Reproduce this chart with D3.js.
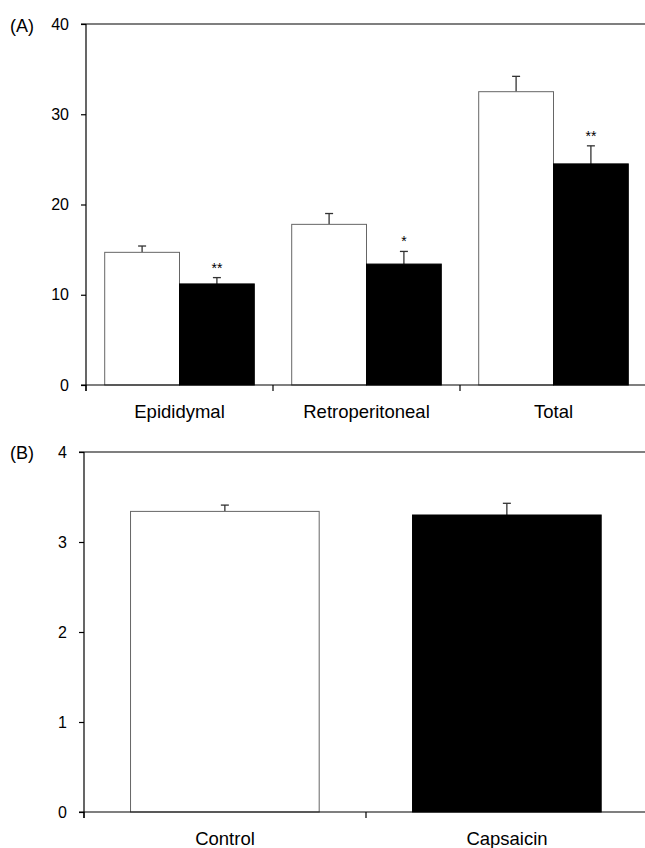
<!DOCTYPE html>
<html>
<head>
<meta charset="utf-8">
<script src="https://cdn.jsdelivr.net/npm/d3@7"></script>
<style>
  html, body { margin: 0; padding: 0; background: #fff; }
  svg { display: block; font-family: "Liberation Sans", Arial, sans-serif; }
</style>
</head>
<body>
<svg id="chart" width="645" height="848"></svg>
<script>
// Panel A data
const categoriesA = ["Epididymal", "Retroperitoneal", "Total"];
const seriesNames = ["Control", "Capsaicin"];
const controlA = [14.7, 17.8, 32.5];
const controlErrA = [0.7, 1.2, 1.7];
const capsaicinA = [11.2, 13.4, 24.5];
const capsaicinErrA = [0.7, 1.4, 2.0];
const starsA = ["**", "*", "**"];
const ticksA = [0, 10, 20, 30, 40];

// Panel B data
const categoriesB = ["Control", "Capsaicin"];
const valuesB = [3.34, 3.30];
const errB = [0.07, 0.13];
const ticksB = [0, 1, 2, 3, 4];

const svg = d3.select("#chart");
const fills = { Control: "#ffffff", Capsaicin: "#000000" };
const strokes = { Control: "#666666", Capsaicin: "#000000" };

function drawFrame(g, x0, yTop, yBottom, y, ticks, label, labelY) {
  g.append("line").attr("x1", x0 - 5).attr("x2", 645).attr("y1", yTop).attr("y2", yTop)
    .attr("stroke", "#000").attr("stroke-width", 1.2);
  const ax = g.append("g").attr("transform", `translate(${x0},0)`)
    .call(d3.axisLeft(y).tickValues(ticks).tickSize(5).tickPadding(12).tickFormat(d3.format("d")));
  ax.select(".domain").remove();
  ax.append("line").attr("x1", 0).attr("x2", 0).attr("y1", yTop).attr("y2", yBottom + 6)
    .attr("stroke", "#000").attr("stroke-width", 1.2);
  ax.selectAll(".tick line").attr("stroke", "#000").attr("stroke-width", 1.2);
  ax.selectAll(".tick text").attr("font-size", 16).attr("fill", "#000")
    .attr("font-family", "'Liberation Sans', Arial, sans-serif");
  g.append("text").attr("x", 10).attr("y", labelY).attr("font-size", 18).text(label);
}

// ---------- Panel A ----------
const gA = svg.append("g");
const yA = d3.scaleLinear().domain([0, 40]).range([385, 24]);
const xA = d3.scaleBand().domain(categoriesA).range([86, 647]).padding(0);
const xSubA = d3.scaleBand().domain(seriesNames)
  .range([xA.bandwidth() * 0.1, xA.bandwidth() * 0.9]).padding(0);

const dataA = categoriesA.map((c, i) => ({
  cat: c,
  star: starsA[i],
  bars: [
    { s: "Control", v: controlA[i], e: controlErrA[i] },
    { s: "Capsaicin", v: capsaicinA[i], e: capsaicinErrA[i] }
  ]
}));

const grpA = gA.selectAll(".grp").data(dataA).enter().append("g")
  .attr("transform", d => `translate(${xA(d.cat)},0)`);

grpA.each(function(d) {
  const g = d3.select(this);
  d.bars.forEach(b => {
    const cx = xSubA(b.s) + xSubA.bandwidth() / 2;
    g.append("line").attr("x1", cx).attr("x2", cx)
      .attr("y1", yA(b.v)).attr("y2", yA(b.v + b.e)).attr("stroke", "#333").attr("stroke-width", 1.3);
    g.append("line").attr("x1", cx - 4).attr("x2", cx + 4)
      .attr("y1", yA(b.v + b.e)).attr("y2", yA(b.v + b.e)).attr("stroke", "#333").attr("stroke-width", 1.3);
    g.append("rect").attr("x", xSubA(b.s)).attr("width", xSubA.bandwidth())
      .attr("y", yA(b.v)).attr("height", yA(0) - yA(b.v))
      .attr("fill", fills[b.s]).attr("stroke", strokes[b.s]).attr("stroke-width", 1);
  });
  const cap = d.bars[1];
  g.append("text").attr("x", xSubA("Capsaicin") + xSubA.bandwidth() / 2)
    .attr("y", yA(cap.v + cap.e) - 5).attr("text-anchor", "middle")
    .attr("font-size", 14).text(d.star);
});

drawFrame(gA, 86, 24, 385, yA, ticksA, "(A)", 32);
const bxA = gA.append("g");
bxA.append("line").attr("x1", 81).attr("x2", 645).attr("y1", 385).attr("y2", 385)
  .attr("stroke", "#000").attr("stroke-width", 1.2);
bxA.selectAll(".xt").data(categoriesA.concat(["_end"])).enter().append("line")
  .attr("x1", (d, i) => i < categoriesA.length ? xA(d) : xA.range()[1])
  .attr("x2", (d, i) => i < categoriesA.length ? xA(d) : xA.range()[1])
  .attr("y1", 385).attr("y2", 391).attr("stroke", "#000").attr("stroke-width", 1.2);
bxA.selectAll(".xl").data(categoriesA).enter().append("text")
  .attr("x", d => xA(d) + xA.bandwidth() / 2).attr("y", 418)
  .attr("text-anchor", "middle").attr("font-size", 18.5).text(d => d);

// ---------- Panel B ----------
const gB = svg.append("g");
const yB = d3.scaleLinear().domain([0, 4]).range([812, 452]);
const xB = d3.scaleBand().domain(categoriesB).range([84, 648]).padding(0);
const dataB = categoriesB.map((c, i) => ({ cat: c, v: valuesB[i], e: errB[i] }));

dataB.forEach(d => {
  const x0 = xB(d.cat) + xB.bandwidth() * 0.165;
  const w = xB.bandwidth() * 0.669;
  const cx = x0 + w / 2;
  gB.append("line").attr("x1", cx).attr("x2", cx)
    .attr("y1", yB(d.v)).attr("y2", yB(d.v + d.e)).attr("stroke", "#333").attr("stroke-width", 1.3);
  gB.append("line").attr("x1", cx - 4).attr("x2", cx + 4)
    .attr("y1", yB(d.v + d.e)).attr("y2", yB(d.v + d.e)).attr("stroke", "#333").attr("stroke-width", 1.3);
  gB.append("rect").attr("x", x0).attr("width", w)
    .attr("y", yB(d.v)).attr("height", yB(0) - yB(d.v))
    .attr("fill", fills[d.cat]).attr("stroke", strokes[d.cat]).attr("stroke-width", 1);
});

drawFrame(gB, 84, 452, 812, yB, ticksB, "(B)", 459);
const bxB = gB.append("g");
bxB.append("line").attr("x1", 79).attr("x2", 645).attr("y1", 812).attr("y2", 812)
  .attr("stroke", "#000").attr("stroke-width", 1.2);
bxB.selectAll(".xt").data(categoriesB.concat(["_end"])).enter().append("line")
  .attr("x1", (d, i) => i < categoriesB.length ? xB(d) : xB.range()[1])
  .attr("x2", (d, i) => i < categoriesB.length ? xB(d) : xB.range()[1])
  .attr("y1", 812).attr("y2", 818).attr("stroke", "#000").attr("stroke-width", 1.2);
bxB.selectAll(".xl").data(categoriesB).enter().append("text")
  .attr("x", d => xB(d) + xB.bandwidth() * 0.5).attr("y", 845)
  .attr("text-anchor", "middle").attr("font-size", 18.5).text(d => d);
</script>
</body>
</html>
